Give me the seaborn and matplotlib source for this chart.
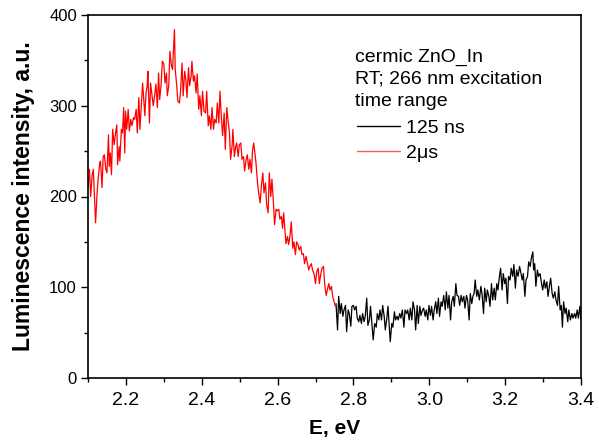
import matplotlib
matplotlib.use("Agg")
import matplotlib.pyplot as plt
import seaborn as sns
import pandas as pd
from matplotlib.ticker import MultipleLocator

# ---- data ----
e_2us = [2.100, 2.104, 2.107, 2.111, 2.114, 2.117, 2.120, 2.124, 2.127, 2.131,
         2.133, 2.137, 2.140, 2.143, 2.147, 2.150, 2.154, 2.156, 2.159, 2.162,
         2.165, 2.169, 2.172, 2.176, 2.178, 2.182, 2.184, 2.188, 2.191, 2.194,
         2.197, 2.199, 2.202, 2.206, 2.209, 2.213, 2.216, 2.220, 2.223, 2.227,
         2.230, 2.234, 2.237, 2.241, 2.244, 2.247, 2.250, 2.253, 2.256, 2.258,
         2.262, 2.265, 2.269, 2.272, 2.276, 2.279, 2.283, 2.286, 2.289, 2.293,
         2.296, 2.300, 2.303, 2.307, 2.309, 2.313, 2.316, 2.320, 2.323, 2.326,
         2.328, 2.330, 2.334, 2.337, 2.341, 2.344, 2.348, 2.351, 2.355,
         2.358, 2.361, 2.365, 2.368, 2.372, 2.374, 2.378, 2.381, 2.385, 2.388,
         2.392, 2.395, 2.399, 2.402, 2.406, 2.410, 2.413, 2.417, 2.420, 2.424,
         2.427, 2.431, 2.434, 2.438, 2.441, 2.445, 2.448, 2.452, 2.455, 2.459,
         2.462, 2.466, 2.469, 2.473, 2.476, 2.480, 2.482, 2.486, 2.489, 2.492,
         2.496, 2.499, 2.503, 2.506, 2.510, 2.513, 2.517, 2.520, 2.524, 2.527,
         2.531, 2.534, 2.537, 2.540, 2.543, 2.547, 2.550, 2.554, 2.557, 2.561,
         2.564, 2.568, 2.571, 2.575, 2.578, 2.582, 2.585, 2.589, 2.592, 2.596,
         2.599, 2.603, 2.606, 2.610, 2.613, 2.616,
         2.619, 2.622, 2.626, 2.629, 2.633, 2.636, 2.640, 2.643, 2.647, 2.650,
         2.654, 2.657, 2.661, 2.664, 2.668, 2.671, 2.675, 2.678, 2.682, 2.685,
         2.689, 2.692, 2.696, 2.700, 2.703, 2.707, 2.710, 2.714, 2.717, 2.721,
         2.724, 2.728, 2.731, 2.735, 2.738, 2.742, 2.745, 2.749, 2.752]
i_2us = [211, 230, 200, 224, 230, 200, 171, 204, 221, 237,
         239, 210, 244, 246, 230, 226, 268, 233, 248, 224,
         274, 257, 268, 279, 235, 255, 239, 274, 270, 298,
         248, 294, 274, 296, 272, 285, 278, 287, 285, 296,
         270, 309, 274, 303, 325, 307, 289, 314, 322, 338,
         281, 325, 311, 300, 312, 324, 298, 336, 307, 324,
         349, 346, 325, 336, 311, 322, 360, 344, 340, 366,
         384, 340, 322, 305, 303, 316, 347, 311, 338,
         329, 309, 342, 322, 333, 349, 327, 333, 314, 335,
         296, 311, 289, 316, 294, 292, 316, 278, 289, 274,
         298, 274, 285, 281, 303, 281, 316, 285, 267, 292,
         252, 298, 285, 270, 241, 256, 274, 244, 254, 259,
         244, 257, 259, 241, 244, 228, 241, 246, 230, 241,
         226, 252, 259, 248, 237, 215, 204, 193, 211, 226,
         204, 215, 191, 182, 226, 200, 219, 193, 169, 186,
         184, 186, 175, 178, 165, 182,
         165, 148, 156, 147, 158, 172, 143, 150, 136, 150,
         147, 141, 145, 136, 137, 126, 134, 128, 119, 123,
         126, 119, 115, 104, 117, 121, 104, 115, 121, 123,
         104, 91, 97, 104, 97, 101, 90, 84, 79]

e_125ns = [2.754, 2.758, 2.761, 2.765, 2.768, 2.772, 2.775, 2.779, 2.782, 2.786,
           2.789, 2.793, 2.796, 2.800, 2.803, 2.807, 2.810, 2.814, 2.817, 2.821,
           2.824, 2.828, 2.831, 2.835, 2.838, 2.842, 2.845, 2.849, 2.852, 2.856,
           2.860, 2.863, 2.867, 2.870, 2.874, 2.877, 2.881, 2.884, 2.888, 2.891,
           2.895, 2.897, 2.901, 2.904, 2.908, 2.911, 2.915, 2.918, 2.922, 2.925,
           2.929, 2.933, 2.936, 2.940, 2.943, 2.947, 2.950, 2.954, 2.957, 2.961,
           2.964, 2.968, 2.971, 2.975, 2.978, 2.982, 2.985, 2.989, 2.992, 2.996,
           2.999, 3.003, 3.006, 3.010, 3.013, 3.017, 3.020, 3.024, 3.027, 3.031,
           3.034, 3.038, 3.042, 3.045, 3.049, 3.052, 3.056, 3.059, 3.063, 3.066,
           3.070, 3.073, 3.077, 3.080, 3.084, 3.087, 3.091, 3.094, 3.098, 3.101,
           3.105, 3.108, 3.112, 3.115,
           3.118, 3.121, 3.125, 3.128, 3.132, 3.136, 3.139, 3.143, 3.146, 3.150,
           3.153, 3.157, 3.160, 3.164, 3.167, 3.171, 3.174, 3.178, 3.181, 3.185,
           3.188, 3.192, 3.195, 3.199, 3.202, 3.206, 3.209, 3.213, 3.216, 3.220,
           3.223, 3.227, 3.230, 3.234, 3.238, 3.241, 3.245, 3.248, 3.252, 3.255,
           3.259, 3.262, 3.266, 3.269, 3.273, 3.275, 3.278, 3.281, 3.285, 3.288,
           3.292, 3.296, 3.299, 3.303, 3.306, 3.310, 3.313, 3.317, 3.320, 3.324,
           3.327, 3.331, 3.334, 3.338, 3.341, 3.345, 3.348, 3.351, 3.354, 3.358,
           3.361, 3.365, 3.368, 3.372, 3.376, 3.379, 3.383, 3.386, 3.390, 3.393,
           3.397, 3.400]
i_125ns = [82, 53, 90, 71, 82, 68, 75, 80, 51, 75,
           71, 57, 79, 80, 75, 79, 66, 62, 69, 60,
           71, 62, 68, 88, 58, 64, 79, 57, 42, 60,
           56, 71, 64, 75, 64, 80, 68, 53, 66, 79,
           53, 40, 60, 56, 73, 64, 68, 64, 71, 66,
           75, 56, 75, 71, 75, 64, 77, 64, 84, 75,
           53, 80, 60, 79, 69, 75, 77, 68, 75, 64,
           80, 69, 79, 64, 75, 84, 71, 88, 68, 84,
           79, 91, 75, 95, 77, 91, 64, 84, 90, 79,
           104, 91, 90, 80, 91, 84, 90, 77, 91, 86,
           64, 93, 82, 90,
           93, 108, 90, 97, 86, 101, 93, 71, 99, 84,
           97, 90, 79, 104, 86, 99, 86, 104, 97, 112,
           121, 97, 115, 104, 110, 82, 112, 108, 121, 112,
           125, 99, 119, 112, 123, 117, 108, 115, 90, 108,
           112, 128, 123, 132, 139, 119, 126, 101, 119, 112,
           115, 104, 97, 108, 99, 106, 90, 102, 110, 93,
           88, 95, 86, 80, 101, 75, 80, 56, 84, 71,
           77, 62, 75, 64, 71, 66, 71, 66, 75, 66,
           79, 64]

header_lines = ["cermic ZnO_In", "RT; 266 nm excitation", "time range"]
series_labels = ["125 ns", "2\u03bcs"]
x_ticks = [2.2, 2.4, 2.6, 2.8, 3.0, 3.2, 3.4]
y_ticks = [0, 100, 200, 300, 400]

df_red = pd.DataFrame({"E": e_2us, "I": i_2us})
df_black = pd.DataFrame({"E": e_125ns, "I": i_125ns})

sns.set_style("ticks")
plt.rcParams["font.family"] = ["Liberation Sans", "DejaVu Sans"]
plt.rcParams["text.color"] = "black"
plt.rcParams["axes.labelcolor"] = "black"
plt.rcParams["xtick.color"] = "black"
plt.rcParams["ytick.color"] = "black"

fig = plt.figure(figsize=(5.99, 4.43), dpi=100)
ax = fig.add_axes([88 / 599, 65 / 443, 493 / 599, 363 / 443])

sns.lineplot(data=df_black, x="E", y="I", ax=ax, color="black", lw=0.9,
             estimator=None, sort=False, label=series_labels[0])
sns.lineplot(data=df_red, x="E", y="I", ax=ax, color="red", lw=0.9,
             estimator=None, sort=False, label=series_labels[1])

ax.set_xlim(2.1, 3.4)
ax.set_ylim(0, 400)
ax.set_xticks(x_ticks)
ax.set_xticklabels([f"{t:.1f}" for t in x_ticks])
ax.set_yticks(y_ticks)
ax.xaxis.set_minor_locator(MultipleLocator(0.1))
ax.yaxis.set_minor_locator(MultipleLocator(50))
ax.tick_params(which="major", direction="out", length=5, width=1.0, pad=3)
ax.tick_params(axis="x", which="major", labelsize=14, pad=5)
ax.tick_params(axis="y", which="major", labelsize=12)
ax.tick_params(which="minor", direction="out", length=3, width=1.0)
for s in ax.spines.values():
    s.set_linewidth(1.2)
    s.set_color("black")
    s.set_visible(True)

ax.set_xlabel("E, eV", fontsize=15, fontweight="bold", labelpad=7)
ax.set_ylabel("Luminescence intensity, a.u.", fontsize=16.5, fontweight="bold",
              labelpad=10)

for txt, yp in zip(header_lines, [57, 79, 102]):
    ax.text((355 - 88) / 493, (378 - yp) / 363, txt, transform=ax.transAxes,
            ha="left", va="center", fontsize=14)

leg = ax.legend(loc="upper left", bbox_to_anchor=((357 - 88) / 493, (378 - 119) / 363),
                frameon=False, fontsize=14, borderpad=0, borderaxespad=0,
                handlelength=2.2, handletextpad=0.3, labelspacing=0.38)
for h in leg.get_lines():
    h.set_linewidth(1.0)
leg.get_lines()[1].set_color("#f06060")

fig.savefig("out.png", dpi=100)
